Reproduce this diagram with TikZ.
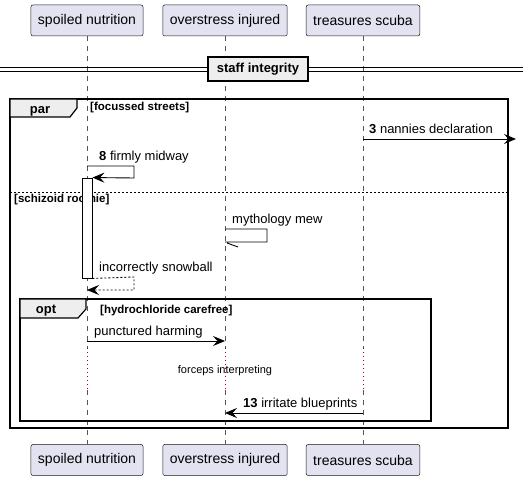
\documentclass[tikz,border=0pt]{standalone}
\usepackage{fontspec}
\setmainfont{Liberation Sans}
\usetikzlibrary{arrows.meta}

\definecolor{actorfill}{HTML}{E2E2F0}
\definecolor{actorline}{HTML}{181818}
\definecolor{lifegray}{HTML}{555555}
\definecolor{tabfill}{HTML}{EEEEEE}
\definecolor{delayred}{HTML}{A80036}

\begin{document}
\begin{tikzpicture}[x=1pt,y=-1pt,
  actor/.style={draw=actorline,fill=actorfill,rounded corners=2pt,minimum height=31pt,inner xsep=7pt,line width=0.5pt,font=\fontsize{14}{16}\selectfont},
  life/.style={lifegray,dash pattern=on 5pt off 5pt,line width=0.5pt},
  delay/.style={delayred,dash pattern=on 1pt off 3pt,line width=0.7pt},
  msg/.style={line width=0.9pt,-{Stealth[length=12pt,width=10pt,inset=4.5pt]}},
  ret/.style={msg,dash pattern=on 2pt off 2pt},
  lbl/.style={anchor=base west,inner sep=0pt,font=\fontsize{13}{15}\selectfont},
  frame/.style={line width=1.4pt},
  tab/.style={fill=tabfill,line width=1.2pt},
  guard/.style={anchor=base west,inner sep=0pt,font=\bfseries\fontsize{11.5}{13}\selectfont},
  tabtext/.style={anchor=base,inner sep=0pt,font=\bfseries\fontsize{13}{15}\selectfont}]
  \useasboundingbox (0,0) rectangle (523,481);
  % participants and lifelines
  \foreach \n/\x/\t in {p1/87/spoiled nutrition,p2/225/overstress injured,p3/363/treasures scuba}{
    \node[actor] (\n top) at (\x,20.5) {\t};
    \node[actor] (\n bot) at (\x,460) {\t};
    \draw[life] (\n top.south) -- (\x,348) (\x,390) -- (\n bot.north);
    \draw[delay] (\x,348) -- (\x,390);
  }
  % divider
  \draw[line width=0.9pt] (0,67.5) -- (523,67.5) (0,71.5) -- (523,71.5);
  \node[draw,line width=1.4pt,fill=tabfill,minimum width=100pt,minimum height=24pt,inner sep=0pt,font=\bfseries\fontsize{13}{15}\selectfont] (sep) at (258,69) {staff integrity};
  % par frame
  \draw[frame] (10,99) rectangle (508,428);
  \draw[tab] (10,99) -- (77,99) -- (77,108) -- (70,117) -- (10,117) -- cycle;
  \node[tabtext] (partxt) at (40,114) {par};
  \node[guard] (g1) at (90,111) {[focussed streets]};
  \draw[line width=0.9pt,dash pattern=on 2pt off 2pt] (10,192) -- (508,192);
  \node[guard] (g2) at (14,203) {[schizoid roomie]};
  % opt frame
  \draw[frame] (20,299) rectangle (431,421);
  \draw[tab] (20,299) -- (86,299) -- (86,309) -- (78,318) -- (20,318) -- cycle;
  \node[tabtext] (opttxt) at (46,314) {opt};
  \node[guard] (g3) at (100,314) {[hydrochloride carefree]};
  % activation
  \node[draw,fill=white,line width=0.9pt,minimum width=10pt,minimum height=100pt,inner sep=0pt] (act) at (87,228) {};
  % messages
  \coordinate (edge3) at (516,139);
  \draw[msg] (p3top |- 0,139) -- (edge3);
  \node[lbl] (m3) at (369,134) {\textbf{3} nannies declaration};
  \draw[msg] (p1top |- 0,166) -- (134,166) -- (134,178) -- (act.north east);
  \node[lbl] (m8) at (99,161) {\textbf{8} firmly midway};
  \draw[line width=0.9pt] (p2top |- 0,229) -- (267,229) -- (267,242) -- (p2top |- 0,242) ++(2,1) -- ++(11,4);
  \node[lbl] (mm) at (232,224) {mythology mew};
  \draw[ret] (act.south east) -- (134,277) -- (134,290) -- (p1top |- 0,290);
  \node[lbl] (ms) at (99,272) {incorrectly snowball};
  \draw[msg] (p1top |- 0,341) -- (p2top |- 0,341);
  \node[lbl] (mp) at (94,336) {punctured harming};
  \node[inner sep=0pt,anchor=base,font=\fontsize{11}{13}\selectfont] (dl) at (225,374) {forceps interpreting};
  \draw[msg] (p3top |- 0,413) -- (p2top |- 0,413);
  \node[lbl] (m13) at (243,408) {\textbf{13} irritate blueprints};
\end{tikzpicture}
\end{document}
